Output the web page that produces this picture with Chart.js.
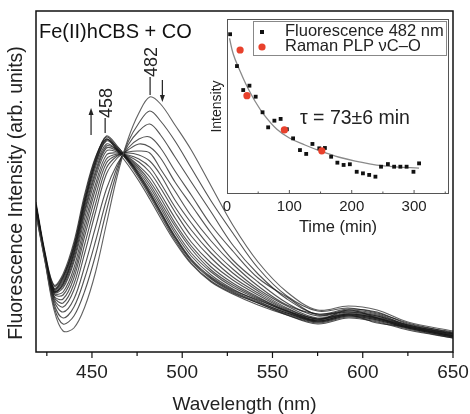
<!DOCTYPE html>
<html>
<head>
<meta charset="utf-8">
<script src="https://cdn.jsdelivr.net/npm/chart.js@4.4.1/dist/chart.umd.min.js"></script>
<style>
  html, body { margin: 0; padding: 0; background: #fff; }
  #wrap { position: relative; width: 470px; height: 414px; }
  #mainChart { position: absolute; left: 0; top: 0; }
  #insetChart { position: absolute; left: 190px; top: 0; }
</style>
</head>
<body>
<div id="wrap">
  <canvas id="mainChart" width="470" height="414"></canvas>
  <canvas id="insetChart" width="275" height="238"></canvas>
</div>
<script>
Chart.defaults.font.family = "'Liberation Sans', Arial, Helvetica, sans-serif";
Chart.defaults.color = '#222';

// emission spectra, wavelength in nm, intensity in arb. units
const wavelengths = [419, 424, 429, 434, 440, 446, 452, 458, 464, 470, 476, 482, 488, 496, 505, 516, 528, 542, 558, 575, 592, 608, 625, 650];

const s00 = [137, 90, 42, 21, 24, 45, 80, 128, 176, 213, 239, 255, 248, 227, 202, 166, 127, 90, 60, 42, 46, 42, 30, 21];
const s01 = [138, 91, 45, 28, 36, 61, 97, 141, 181, 210, 229, 241, 231, 211, 184, 151, 119, 84, 56, 41, 44, 39, 29, 19];
const s02 = [140, 92, 48, 34, 45, 74, 111, 152, 185, 207, 221, 228, 217, 195, 170, 140, 107, 78, 53, 38, 43, 40, 28, 20];
const s03 = [141, 93, 51, 40, 53, 86, 125, 163, 188, 204, 213, 215, 204, 181, 157, 127, 101, 74, 55, 37, 42, 38, 27, 19];
const s04 = [142, 94, 53, 45, 62, 99, 140, 178, 194, 202, 208, 205, 194, 170, 147, 119, 92, 70, 49, 36, 41, 37, 27, 18];
const s05 = [143, 94, 55, 49, 68, 108, 148, 184, 196, 200, 201, 199, 183, 161, 136, 111, 88, 66, 47, 38, 40, 36, 27, 18];
const s06 = [144, 95, 56, 53, 74, 116, 156, 189, 197, 199, 197, 191, 177, 152, 129, 104, 83, 63, 46, 34, 40, 36, 26, 17];
const s07 = [144, 95, 58, 57, 79, 122, 163, 193, 198, 197, 193, 185, 169, 145, 122, 99, 79, 61, 44, 33, 39, 35, 26, 17];
const s08 = [145, 95, 59, 60, 84, 128, 168, 197, 199, 196, 190, 180, 164, 140, 116, 94, 75, 59, 43, 33, 38, 34, 25, 16];
const s09 = [145, 96, 60, 64, 90, 134, 174, 201, 200, 195, 186, 175, 158, 134, 110, 89, 72, 57, 42, 32, 42, 34, 25, 16];
const s10 = [146, 96, 61, 66, 93, 139, 178, 204, 201, 194, 184, 171, 154, 129, 106, 85, 69, 55, 41, 32, 38, 34, 25, 16];
const s11 = [146, 96, 61, 68, 96, 142, 181, 206, 202, 193, 182, 168, 150, 126, 103, 82, 67, 54, 41, 31, 37, 33, 25, 16];
const s12 = [146, 96, 62, 70, 99, 145, 185, 208, 202, 192, 180, 165, 147, 122, 99, 80, 65, 53, 40, 31, 37, 29, 25, 16];
const s13 = [146, 97, 63, 72, 102, 149, 188, 211, 203, 192, 178, 162, 144, 119, 96, 77, 63, 51, 39, 31, 37, 33, 24, 15];
const s14 = [147, 97, 63, 74, 104, 152, 191, 213, 203, 191, 176, 159, 140, 115, 92, 74, 61, 50, 39, 30, 36, 32, 24, 15];
const s15 = [147, 97, 64, 75, 107, 155, 194, 215, 204, 190, 174, 156, 137, 112, 89, 71, 59, 49, 38, 30, 36, 32, 24, 15];
const s16 = [150, 100, 67, 78, 110, 158, 195, 213, 201, 187, 171, 153, 134, 110, 88, 70, 58, 47, 37, 29, 35, 31, 23, 14];
const s17 = [144, 95, 60, 68, 99, 148, 189, 212, 205, 193, 178, 160, 141, 116, 93, 75, 62, 52, 41, 33, 38, 34, 26, 18];
const s18 = [148, 99, 66, 76, 105, 152, 192, 216, 206, 192, 176, 158, 139, 114, 91, 73, 60, 49, 37, 28, 34, 30, 22, 14];
const spectra = [s00, s01, s02, s03, s04, s05, s06, s07, s08, s09, s10, s11, s12, s13, s14, s15, s16, s17, s18];

// inset: decay of the 482 nm band
const fluoTime = [5, 16, 26, 36, 46, 57, 66, 76, 86, 96, 106, 117, 127, 137, 148, 157, 167, 177, 187, 197, 208, 218, 228, 238, 247, 258, 268, 278, 288, 299, 308];
const fluoIntensity = [0.913, 0.731, 0.594, 0.619, 0.556, 0.467, 0.381, 0.419, 0.429, 0.370, 0.318, 0.251, 0.229, 0.286, 0.261, 0.263, 0.213, 0.179, 0.166, 0.170, 0.127, 0.118, 0.109, 0.099, 0.156, 0.171, 0.156, 0.156, 0.156, 0.127, 0.175];
const ramanTime = [21, 32, 92, 152];
const ramanIntensity = [0.823, 0.562, 0.366, 0.247];
const fitTime = [4, 10, 20, 30, 45, 60, 80, 100, 125, 150, 180, 210, 240, 270, 308];
const fitIntensity = [0.89, 0.80, 0.71, 0.63, 0.53, 0.45, 0.37, 0.32, 0.28, 0.245, 0.21, 0.185, 0.165, 0.155, 0.148];

const FONT = "'Liberation Sans', Arial, Helvetica, sans-serif";

function noPad(scale) {
    scale.paddingLeft = 0;
    scale.paddingRight = 0;
    scale.paddingTop = 0;
    scale.paddingBottom = 0;
}

function arrow(ctx, px, y0, y1) {
    const dir = Math.sign(y1 - y0);
    ctx.beginPath();
    ctx.moveTo(px, y0);
    ctx.lineTo(px, y1 - dir * 4);
    ctx.stroke();
    ctx.beginPath();
    ctx.moveTo(px, y1);
    ctx.lineTo(px - 2.5, y1 - dir * 7);
    ctx.lineTo(px + 2.5, y1 - dir * 7);
    ctx.closePath();
    ctx.fill();
}

function vText(ctx, txt, px, py) {
    ctx.save();
    ctx.translate(px, py);
    ctx.rotate(-Math.PI / 2);
    ctx.textAlign = 'center';
    ctx.textBaseline = 'middle';
    ctx.fillText(txt, 0, 0);
    ctx.restore();
}

const mainNotes = {
    id: 'mainNotes',
    afterDraw(chart) {
        const {ctx, chartArea: a, scales: {x, y}} = chart;
        ctx.save();
        ctx.strokeStyle = '#111';
        ctx.fillStyle = '#111';
        ctx.lineWidth = 1.5;
        ctx.strokeRect(a.left, a.top, a.right - a.left, a.bottom - a.top);

        // major and minor tick marks
        ctx.lineWidth = 1.2;
        for (let v = 425; v <= 650; v += 25) {
            const px = x.getPixelForValue(v);
            const len = v % 50 === 0 ? 6 : 4;
            ctx.beginPath();
            ctx.moveTo(px, a.bottom);
            ctx.lineTo(px, a.bottom + len);
            ctx.stroke();
        }

        ctx.font = '20px ' + FONT;
        ctx.textAlign = 'left';
        ctx.textBaseline = 'alphabetic';
        ctx.fillText('Fe(II)hCBS + CO', a.left + 3, a.top + 27);

        // y axis title, sits a little below the middle of the frame
        ctx.fillStyle = '#222';
        ctx.font = '19.5px ' + FONT;
        vText(ctx, 'Fluorescence Intensity (arb. units)', 17, a.top + 182);

        // peak labels
        ctx.font = '18px ' + FONT;
        ctx.strokeStyle = '#222';
        ctx.lineWidth = 1.2;
        vText(ctx, '458', x.getPixelForValue(458.3), y.getPixelForValue(249));
        vText(ctx, '482', x.getPixelForValue(483.3), y.getPixelForValue(290));
        ctx.beginPath();
        ctx.moveTo(x.getPixelForValue(457.3), y.getPixelForValue(234));
        ctx.lineTo(x.getPixelForValue(457.3), y.getPixelForValue(219));
        ctx.moveTo(x.getPixelForValue(482.2), y.getPixelForValue(275));
        ctx.lineTo(x.getPixelForValue(482.2), y.getPixelForValue(257));
        ctx.stroke();
        arrow(ctx, x.getPixelForValue(449.5), y.getPixelForValue(217), y.getPixelForValue(244));
        arrow(ctx, x.getPixelForValue(489), y.getPixelForValue(272), y.getPixelForValue(250));
        ctx.restore();
    }
};

new Chart(document.getElementById('mainChart'), {
    type: 'line',
    data: {
        datasets: spectra.map((s, i) => ({
            data: s.map((v, j) => ({x: wavelengths[j], y: v})),
            borderColor: i === 0 ? 'rgba(80,80,80,0.9)' : 'rgba(25,25,25,0.75)',
            borderWidth: 1.1,
            pointRadius: 0,
            tension: 0.35,
            fill: false
        }))
    },
    options: {
        responsive: false,
        animation: false,
        events: [],
        layout: {padding: {left: 0, right: 17, top: 11, bottom: 0}},
        plugins: {legend: {display: false}, tooltip: {enabled: false}},
        scales: {
            x: {
                type: 'linear',
                min: 419,
                max: 650,
                grid: {display: false, drawTicks: false},
                border: {display: false},
                ticks: {stepSize: 50, includeBounds: false, padding: 9, color: '#222', font: {size: 19}},
                title: {display: true, text: 'Wavelength (nm)', color: '#222', font: {size: 19, lineHeight: 1}, padding: {top: 0, bottom: 0}},
                afterFit(scale) { scale.height = 62; noPad(scale); }
            },
            y: {
                min: 0,
                max: 341,
                grid: {display: false, drawTicks: false},
                border: {display: false},
                ticks: {display: false},
                afterFit(scale) { scale.width = 36; noPad(scale); }
            }
        }
    },
    plugins: [mainNotes]
});

const insetNotes = {
    id: 'insetNotes',
    beforeDraw(chart) {
        const {ctx, chartArea: a} = chart;
        ctx.save();
        ctx.fillStyle = '#fff';
        ctx.fillRect(a.left, a.top, a.right - a.left, a.bottom - a.top);
        ctx.restore();
    },
    afterDraw(chart) {
        const {ctx, chartArea: a, scales: {x, y}} = chart;
        ctx.save();
        ctx.strokeStyle = '#555';
        ctx.lineWidth = 1;
        ctx.strokeRect(a.left + 0.5, a.top + 0.5, a.right - a.left - 1, a.bottom - a.top - 1);
        for (let v = 50; v <= 350; v += 50) {
            const px = x.getPixelForValue(v);
            const len = v % 100 === 0 ? 4 : 2.5;
            ctx.beginPath();
            ctx.moveTo(px, a.bottom);
            ctx.lineTo(px, a.bottom - len);
            ctx.stroke();
        }

        // legend
        const lx = a.left + 26, ly = a.top + 2;
        ctx.fillStyle = '#fff';
        ctx.fillRect(lx, ly, 193, 34);
        ctx.strokeStyle = '#888';
        ctx.strokeRect(lx + 0.5, ly + 0.5, 193, 34);
        ctx.fillStyle = '#111';
        ctx.fillRect(a.left + 33, a.top + 11, 4, 4);
        ctx.fillStyle = '#e8412c';
        ctx.beginPath();
        ctx.arc(a.left + 35, a.top + 28, 3.6, 0, Math.PI * 2);
        ctx.fill();
        ctx.fillStyle = '#222';
        ctx.font = '16.5px ' + FONT;
        ctx.textAlign = 'left';
        ctx.textBaseline = 'middle';
        ctx.fillText('Fluorescence 482 nm', a.left + 58, a.top + 12.5);
        ctx.fillText('Raman PLP νC–O', a.left + 58, a.top + 27.5);

        ctx.font = '19.5px ' + FONT;
        ctx.fillText('τ = 73±6 min', x.getPixelForValue(117), y.getPixelForValue(0.43));
        ctx.restore();
    }
};

new Chart(document.getElementById('insetChart'), {
    type: 'scatter',
    data: {
        datasets: [
            {
                label: 'Raman PLP νC–O',
                data: ramanTime.map((t, i) => ({x: t, y: ramanIntensity[i]})),
                pointStyle: 'circle',
                pointRadius: 3.6,
                backgroundColor: '#e8412c',
                borderColor: '#e8412c',
                borderWidth: 0
            },
            {
                label: 'Fluorescence 482 nm',
                data: fluoTime.map((t, i) => ({x: t, y: fluoIntensity[i]})),
                pointStyle: 'rect',
                pointRadius: 2.7,
                backgroundColor: '#111',
                borderColor: '#111',
                borderWidth: 0
            },
            {
                type: 'line',
                label: 'fit',
                data: fitTime.map((t, i) => ({x: t, y: fitIntensity[i]})),
                borderColor: '#8a8a8a',
                borderWidth: 1.3,
                pointRadius: 0,
                tension: 0.4,
                fill: false
            }
        ]
    },
    options: {
        responsive: false,
        animation: false,
        events: [],
        layout: {padding: {left: 0, right: 16, top: 19, bottom: 0}},
        plugins: {legend: {display: false}, tooltip: {enabled: false}},
        scales: {
            x: {
                type: 'linear',
                min: 0,
                max: 356,
                grid: {display: false, drawTicks: false},
                border: {display: false},
                ticks: {stepSize: 100, includeBounds: false, padding: 4, color: '#222', font: {size: 15}},
                title: {display: true, text: 'Time (min)', color: '#222', font: {size: 16.5, lineHeight: 1}, padding: {top: 0, bottom: 2}},
                afterFit(scale) { scale.height = 44; noPad(scale); }
            },
            y: {
                min: 0,
                max: 1,
                grid: {display: false, drawTicks: false},
                border: {display: false},
                ticks: {display: false},
                title: {display: true, text: 'Intensity', color: '#222', font: {size: 14, lineHeight: 1}, padding: {top: 20, bottom: 0}},
                afterFit(scale) { scale.width = 37; noPad(scale); }
            }
        }
    },
    plugins: [insetNotes]
});
</script>
</body>
</html>
